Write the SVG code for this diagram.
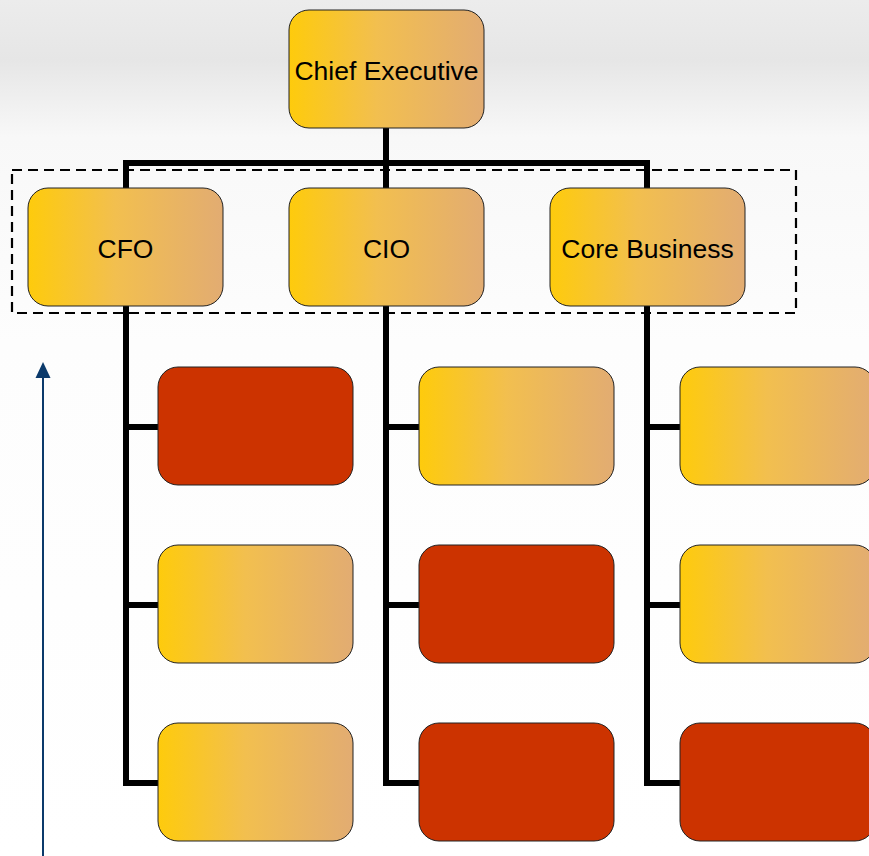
<svg xmlns="http://www.w3.org/2000/svg" width="869" height="856" viewBox="0 0 869 856">
  <defs>
    <linearGradient id="gold" x1="0" y1="0" x2="1" y2="0">
      <stop offset="0" stop-color="#fecb0c"/>
      <stop offset="0.45" stop-color="#f2bf4f"/>
      <stop offset="1" stop-color="#e2ac72"/>
    </linearGradient>
    <linearGradient id="haze" x1="0" y1="0" x2="0" y2="1">
      <stop offset="0" stop-color="#ececec"/>
      <stop offset="0.07" stop-color="#e6e6e6"/>
      <stop offset="0.16" stop-color="#f8f8f8"/>
      <stop offset="0.4" stop-color="#fdfdfd"/>
      <stop offset="1" stop-color="#ffffff"/>
    </linearGradient>
    <style>
      .box { stroke: #222222; stroke-width: 1; }
      .lead { fill: url(#gold); }
      .hot { fill: #cc3300; }
      .label { font-family: "Liberation Sans", Arial, sans-serif; font-size: 26.5px; fill: #000000; text-anchor: middle; }
      .wire { fill: none; stroke: #000000; stroke-width: 6; stroke-linejoin: miter; stroke-linecap: butt; }
    </style>
  </defs>

  <!-- background -->
  <rect x="0" y="0" width="869" height="856" fill="url(#haze)"/>

  <!-- management band -->
  <rect id="band" x="12" y="170" width="784" height="143" fill="none" stroke="#000000" stroke-width="2.2" stroke-dasharray="10 6"/>

  <!-- connectors -->
  <g id="connectors">
    <path class="wire" d="M 386 128 V 163"/>
    <path class="wire" d="M 126 188 V 163 H 647 V 188"/>
    <path class="wire" d="M 386 163 V 188"/>
    <path class="wire" d="M 158 427 H 126 V 306"/>
    <path class="wire" d="M 126 427 V 783 H 158"/>
    <path class="wire" d="M 126 605 H 158"/>
    <path class="wire" d="M 419 427 H 386 V 306"/>
    <path class="wire" d="M 386 427 V 783 H 419"/>
    <path class="wire" d="M 386 605 H 419"/>
    <path class="wire" d="M 680 427 H 647 V 306"/>
    <path class="wire" d="M 647 427 V 783 H 680"/>
    <path class="wire" d="M 647 605 H 680"/>
    <g id="upward">
      <path d="M 43 856 V 376" fill="none" stroke="#0b3a6b" stroke-width="2"/>
      <polygon points="43,362 50.5,378 35.5,378" fill="#0b3a6b"/>
    </g>
  </g>

  <g id="chief-executive">
    <rect class="box lead" x="289" y="10" width="195" height="118" rx="20"/>
    <text class="label" x="386.5" y="80">Chief Executive</text>
  </g>

  <g id="cfo">
    <rect class="box lead" x="28" y="188" width="195" height="118" rx="20"/>
    <text class="label" x="125.5" y="258">CFO</text>
  </g>
  <g id="cio">
    <rect class="box lead" x="289" y="188" width="195" height="118" rx="20"/>
    <text class="label" x="386.5" y="258">CIO</text>
  </g>
  <g id="core-business">
    <rect class="box lead" x="550" y="188" width="195" height="118" rx="20"/>
    <text class="label" x="647.5" y="258">Core Business</text>
  </g>

  <g id="cfo-unit-1"><rect class="box hot" x="158" y="367" width="195" height="118" rx="20"/></g>
  <g id="cfo-unit-2"><rect class="box lead" x="158" y="545" width="195" height="118" rx="20"/></g>
  <g id="cfo-unit-3"><rect class="box lead" x="158" y="723" width="195" height="118" rx="20"/></g>

  <g id="cio-unit-1"><rect class="box lead" x="419" y="367" width="195" height="118" rx="20"/></g>
  <g id="cio-unit-2"><rect class="box hot" x="419" y="545" width="195" height="118" rx="20"/></g>
  <g id="cio-unit-3"><rect class="box hot" x="419" y="723" width="195" height="118" rx="20"/></g>

  <g id="core-unit-1"><rect class="box lead" x="680" y="367" width="195" height="118" rx="20"/></g>
  <g id="core-unit-2"><rect class="box lead" x="680" y="545" width="195" height="118" rx="20"/></g>
  <g id="core-unit-3"><rect class="box hot" x="680" y="723" width="195" height="118" rx="20"/></g>
</svg>
